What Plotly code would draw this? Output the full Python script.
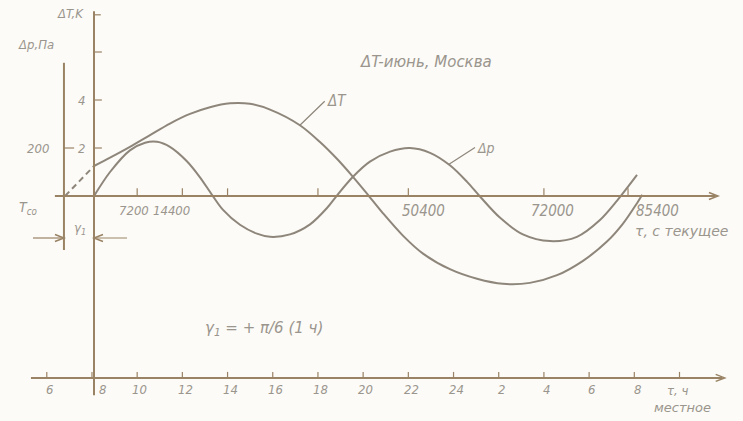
import plotly.graph_objects as go

# ---------------- data ----------------
# ΔT curve, local time in hours (values past 24 = next day), ΔT in K
dT_hours = [6.81, 8.09, 8.80, 9.68, 10.57, 11.45, 12.34, 13.22, 14.11, 14.99, 15.88, 17.20,
            18.09, 18.84, 19.55, 20.17, 20.88, 21.76, 22.65, 23.84, 25.04, 26.19, 27.38,
            28.58, 29.73, 30.79, 31.50, 32.12, 32.35]
dT_values = [0.0, 1.25, 1.60, 2.05, 2.54, 3.02, 3.42, 3.70, 3.86, 3.84, 3.60, 2.95,
             2.25, 1.55, 0.80, 0.10, -0.72, -1.65, -2.40, -3.05, -3.45, -3.66, -3.62,
             -3.30, -2.70, -1.90, -1.15, -0.30, 0.05]
dT_dashed_count = 2   # first segment (from τ_co to the ΔT axis) is dashed

# Δp curve, local time in hours, Δp in Pa
dp_hours = [8.09, 8.80, 9.68, 10.35, 10.88, 11.45, 12.20, 12.78, 13.31, 13.80, 14.55, 15.30,
            15.88, 16.76, 17.65, 18.40, 18.84, 19.55, 20.30, 21.19, 22.07, 22.96, 23.84,
            24.59, 25.17, 26.05, 27.07, 28.27, 29.46, 30.48, 31.23, 32.12]
dp_values = [0, 100, 190, 222, 226, 205, 145, 78, 5, -58, -120, -157,
             -170, -160, -118, -50, 2, 80, 143, 185, 200, 180, 128,
             60, -2, -90, -160, -188, -170, -100, -20, 88]

# tick marks / labels
dT_ticks = [2, 4, 6]
dT_tick_labels = {2: "2", 4: "4"}
dp_ticks = [200]
tau_ticks_s = [7200, 14400, 21600, 36000, 50400, 72000, 85400]       # current time, s
tau_tick_labels = {7200: "7200", 14400: "14400", 50400: "50400", 72000: "72000", 85400: "85400"}
local_ticks_h = [6, 8, 10, 12, 14, 16, 18, 20, 22, 24, 26, 28, 30, 32, 34]
local_tick_labels = ["6", "8", "10", "12", "14", "16", "18", "20", "22", "24", "2", "4", "6", "8", ""]

TAU0_H = 8.0          # local hour at τ = 0
T_CO_H = 6.76         # local hour of τ_co (Δp axis)
DT_AXIS_H = 8.09      # ΔT axis position
PA_PER_K = 100.0      # Δp scale relative to ΔT scale

# ---------------- style ----------------
AX = "#9a8365"
CURVE = "#8e867b"
TXT = "#9a958d"
FONT = "Liberation Sans Narrow, DejaVu Sans Condensed, Liberation Sans"
WIDE = "DejaVu Sans, Liberation Sans"
tau_label_shift = {7200: -0.15, 14400: -0.5, 50400: 0.65, 72000: 0.4, 85400: 1.3}

XR = [3.93, 36.81]
YR = [-9.375, 8.167]

fig = go.Figure()

fig.add_trace(go.Scatter(x=dT_hours[:dT_dashed_count], y=dT_values[:dT_dashed_count],
                         mode="lines", line=dict(color=CURVE, width=2, dash="6px,4px"),
                         showlegend=False, hoverinfo="skip"))
fig.add_trace(go.Scatter(x=dT_hours[dT_dashed_count - 1:], y=dT_values[dT_dashed_count - 1:],
                         mode="lines", line=dict(color=CURVE, width=2, shape="spline", smoothing=0.9),
                         showlegend=False, hoverinfo="skip"))
fig.add_trace(go.Scatter(x=dp_hours, y=dp_values, yaxis="y2",
                         mode="lines", line=dict(color=CURVE, width=2, shape="spline", smoothing=0.9),
                         showlegend=False, hoverinfo="skip"))

shapes = []
ann = []


def line(x0, y0, x1, y1, w=2, color=AX):
    shapes.append(dict(type="line", xref="x", yref="y", x0=x0, y0=y0, x1=x1, y1=y1,
                       line=dict(color=color, width=w)))


def head(x, y, direction, color=AX):
    s = 1 if direction == "right" else -1
    path = f"M {-9 * s} -3.5 L 0 0 L {-9 * s} 3.5"
    shapes.append(dict(type="path", xref="x", yref="y", xsizemode="pixel", ysizemode="pixel",
                       xanchor=x, yanchor=y, path=path, line=dict(color=color, width=1.5)))


def text(x, y, s, size=12, xanchor="center", yanchor="middle", color=TXT, family=FONT):
    ann.append(dict(x=x, y=y, xref="x", yref="y", text="<i>" + s + "</i>", showarrow=False,
                    xanchor=xanchor, yanchor=yanchor,
                    font=dict(family=family, size=size, color=color)))


# main (current time) axis
line(6.36, 0, 35.6, 0)
head(35.7, 0, "right")
for t in tau_ticks_s:
    h = TAU0_H + t / 3600.0
    line(h, 0, h, 0.32, w=1.2)
    if t in tau_tick_labels:
        size = 13 if t < 20000 else 15
        text(h + tau_label_shift[t], -0.62, tau_tick_labels[t], size=size)
text(31.95, -1.46, "τ, с текущее", size=14, xanchor="left", family=WIDE)

# ΔT axis
line(DT_AXIS_H, 7.7, DT_AXIS_H, -8.3)
line(DT_AXIS_H, 7.55, DT_AXIS_H + 0.3, 7.55, w=1.2)
for v in dT_ticks:
    line(DT_AXIS_H, v, DT_AXIS_H + 0.35, v, w=1.2)
    if v in dT_tick_labels:
        text(DT_AXIS_H - 0.55, v, dT_tick_labels[v], size=13)
text(DT_AXIS_H - 1.05, 7.62, "ΔT,K", size=13)

# Δp axis
line(T_CO_H, 5.55, T_CO_H, -2.25)
for v in dp_ticks:
    line(T_CO_H, v / PA_PER_K, T_CO_H + 0.45, v / PA_PER_K, w=1.2)
    text(T_CO_H - 1.15, v / PA_PER_K, str(v), size=13)
text(T_CO_H - 1.25, 6.3, "Δp,Па", size=13)
text(T_CO_H - 1.6, -0.5, "T<sub>co</sub>", size=14)

# γ1 dimension
line(5.39, -1.75, T_CO_H, -1.75, w=1.2)
line(DT_AXIS_H, -1.75, 9.55, -1.75, w=1.2)
head(T_CO_H, -1.75, "right")
head(DT_AXIS_H, -1.75, "left")
text((T_CO_H + DT_AXIS_H) / 2 + 0.05, -1.35, "γ<sub>1</sub>", size=13)

# local time axis
YB = -7.58
line(5.3, YB, 35.9, YB)
head(36.0, YB, "right")
for h, lab in zip(local_ticks_h, local_tick_labels):
    line(h, YB, h, YB + 0.25, w=1.2)
    if lab:
        if abs(h - DT_AXIS_H) < 0.2:
            text(DT_AXIS_H + 0.12, YB - 0.5, lab, size=13, xanchor="left")
        else:
            text(h + 0.12, YB - 0.5, lab, size=13)
text(33.93, YB - 0.52, "τ, ч", size=13)
text(34.15, YB - 1.25, "местное", size=13, family=WIDE)

# curve labels with leaders
ann.append(dict(x=17.2, y=2.95, ax=18.3, ay=3.95, xref="x", yref="y", axref="x", ayref="y",
                text="<i>ΔT</i>", showarrow=True, arrowhead=0, arrowwidth=1.2, arrowcolor=CURVE,
                xanchor="left", font=dict(family=FONT, size=15, color=TXT)))
ann.append(dict(x=23.8, y=1.32, ax=24.95, ay=2.02, xref="x", yref="y", axref="x", ayref="y",
                text="<i>Δp</i>", showarrow=True, arrowhead=0, arrowwidth=1.2, arrowcolor=CURVE,
                xanchor="left", font=dict(family=FONT, size=14, color=TXT)))

text(22.78, 5.6, "ΔT-июнь, Москва", size=15, family=WIDE)
text(15.6, -5.5, "γ<sub>1</sub> = + π/6 (1 ч)", size=15, family=WIDE)

fig.update_layout(
    width=743, height=421,
    margin=dict(l=0, r=0, t=0, b=0),
    paper_bgcolor="#fcfbf7", plot_bgcolor="#fcfbf7",
    xaxis=dict(range=XR, visible=False, fixedrange=True),
    yaxis=dict(range=YR, visible=False, fixedrange=True),
    yaxis2=dict(range=[YR[0] * PA_PER_K, YR[1] * PA_PER_K], overlaying="y", visible=False,
                fixedrange=True),
    shapes=shapes, annotations=ann, showlegend=False,
)

fig.write_html("out.html", config={"displayModeBar": False},
               post_script="document.body.style.margin='0';document.body.style.padding='0';")
